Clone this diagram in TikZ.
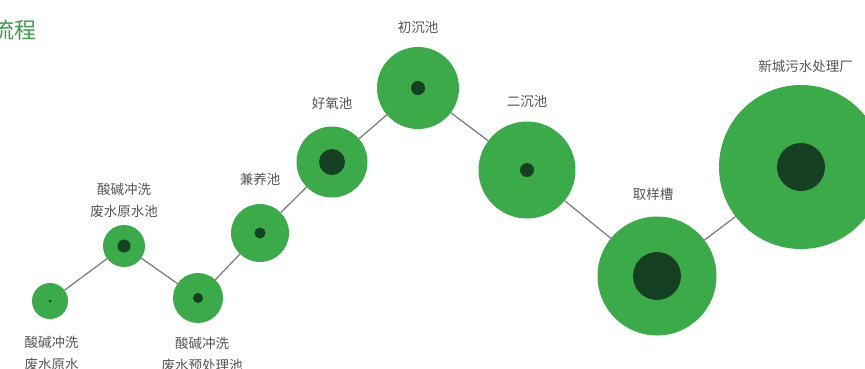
\documentclass[tikz,border=0pt]{standalone}
\usepackage{fontspec}
\newfontfamily\cjk{Noto Sans CJK SC}
\usetikzlibrary{positioning}
\definecolor{poolgreen}{RGB}{59,170,73}
\definecolor{coredark}{RGB}{22,64,36}
\definecolor{linkgray}{RGB}{128,128,128}
\definecolor{taggray}{RGB}{85,85,85}
\definecolor{titlegreen}{RGB}{58,156,74}

\begin{document}
\begin{tikzpicture}[x=1pt, y=-1pt,
    pool/.style={circle, fill=poolgreen, inner sep=0pt},
    core/.style={circle, fill=coredark, inner sep=0pt},
    tag/.style={font=\cjk\fontsize{13.5}{21.5}\selectfont, text=taggray,
      align=center, inner sep=0pt},
    link/.style={draw=linkgray, line width=1.3pt}]
    \useasboundingbox (0,0) rectangle (865,368);
    % Title
    \node[font=\cjk\fontsize{22}{22}\selectfont, text=titlegreen, anchor=west,
      inner sep=0pt] (title) at (-8,30) {流程};
    % Pools
    \node[pool, minimum size=36pt] (rawwater) at (50,301) {};
    \node[pool, minimum size=42pt] (rawpool) at (124,246) {};
    \node[pool, minimum size=50pt] (pretreat) at (198,298) {};
    \node[pool, minimum size=58pt] (facultative) at (260,233) {};
    \node[pool, minimum size=71pt] (aerobic) at (332,162) {};
    \node[pool, minimum size=82pt] (primary) at (418,88) {};
    \node[pool, minimum size=97pt] (secondary) at (527,170) {};
    \node[pool, minimum size=119pt] (sampling) at (657,276) {};
    \node[pool, minimum size=164pt] (plant) at (801,167) {};
    % Cores
    \node[core, minimum size=3pt] at (rawwater) {};
    \node[core, minimum size=13pt] at (rawpool) {};
    \node[core, minimum size=10pt] at (pretreat) {};
    \node[core, minimum size=11pt] at (facultative) {};
    \node[core, minimum size=26pt] at (aerobic) {};
    \node[core, minimum size=14pt] at (primary) {};
    \node[core, minimum size=14pt] at (secondary) {};
    \node[core, minimum size=48pt] at (sampling) {};
    \node[core, minimum size=48pt] at (plant) {};
    % Labels
    \node[tag, below=17pt of rawwater, xshift=1.5pt] {酸碱冲洗\\废水原水};
    \node[tag, above=7pt of rawpool] {酸碱冲洗\\废水原水池};
    \node[tag, below=14pt of pretreat, xshift=4pt] {酸碱冲洗\\废水预处理池};
    \node[tag, above=18pt of facultative] {兼养池};
    \node[tag, above=16.5pt of aerobic] {好氧池};
    \node[tag, above=13pt of primary] {初沉池};
    \node[tag, above=14pt of secondary] {二沉池};
    \node[tag, above=15.5pt of sampling, xshift=-4pt] {取样槽};
    \node[tag, above=11.5pt of plant, xshift=4.5pt] {新城污水处理厂};
    % Lines
    \draw[link] (rawwater) -- (rawpool);
    \draw[link] (rawpool) -- (pretreat);
    \draw[link] (pretreat) -- (facultative);
    \draw[link] (facultative) -- (aerobic);
    \draw[link] (aerobic) -- (primary);
    \draw[link] (primary) -- (secondary);
    \draw[link] (secondary) -- (sampling);
    \draw[link] (sampling) -- (plant);
\end{tikzpicture}
\end{document}
